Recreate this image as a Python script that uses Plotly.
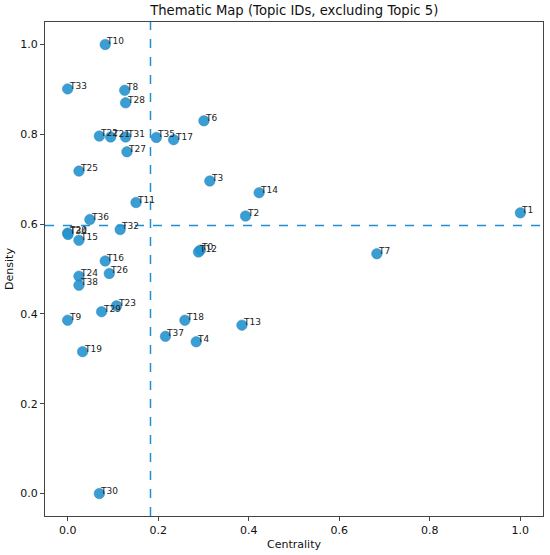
import plotly.graph_objects as go

# topic labels, centrality (x) and density (y)
topics = ["T10", "T33", "T8", "T28", "T6", "T22", "T21", "T31", "T35", "T17",
          "T27", "T25", "T3", "T14", "T11", "T2", "T1", "T36", "T20", "T34",
          "T32", "T15", "T0", "T12", "T7", "T16", "T26", "T24", "T38", "T23",
          "T29", "T9", "T18", "T13", "T37", "T4", "T19", "T30"]
centrality = [0.083, 0.000, 0.126, 0.128, 0.301, 0.070, 0.095, 0.128, 0.196, 0.234,
              0.131, 0.025, 0.314, 0.423, 0.151, 0.393, 1.000, 0.049, 0.000, 0.001,
              0.116, 0.025, 0.293, 0.289, 0.683, 0.083, 0.092, 0.025, 0.025, 0.108,
              0.075, 0.000, 0.259, 0.385, 0.216, 0.284, 0.033, 0.070]
density = [1.000, 0.901, 0.898, 0.870, 0.830, 0.796, 0.794, 0.794, 0.793, 0.788,
           0.761, 0.718, 0.696, 0.670, 0.648, 0.618, 0.625, 0.610, 0.580, 0.577,
           0.588, 0.564, 0.542, 0.538, 0.534, 0.518, 0.490, 0.484, 0.464, 0.418,
           0.405, 0.386, 0.386, 0.375, 0.350, 0.338, 0.316, 0.000]

# quadrant split lines
centrality_split = 0.183
density_split = 0.597

blue = "#2494d0"
font = "DejaVu Sans"

fig = go.Figure()
fig.add_trace(go.Scatter(
    x=centrality, y=density, mode="markers",
    marker=dict(size=10.5, color=blue, opacity=0.9,
                line=dict(width=0.5, color="#1a7ab4")),
    hoverinfo="text", text=topics, showlegend=False))

for t, cx, cy in zip(topics, centrality, density):
    fig.add_annotation(x=cx, y=cy, text=t, showarrow=False,
                       xanchor="left", yanchor="middle", xshift=-1, yshift=3,
                       font=dict(family=font, size=9, color="#222"))

fig.add_vline(x=centrality_split, line=dict(color="#1f8fcf", width=1.5, dash="dash"))
fig.add_hline(y=density_split, line=dict(color="#1f8fcf", width=1.5, dash="dash"))

axis = dict(range=[-0.05, 1.05], showgrid=False, zeroline=False, automargin=False,
            showline=True, linecolor="#444", linewidth=1, mirror=True,
            ticks="outside", ticklen=4, tickcolor="#444",
            tickvals=[0, 0.2, 0.4, 0.6, 0.8, 1.0], tickformat=".1f",
            tickfont=dict(family=font, size=11, color="#111"))

fig.update_xaxes(axis, title=dict(text="Centrality", standoff=4,
                                  font=dict(family=font, size=11, color="#111")))
fig.update_yaxes(axis, title=dict(text="Density", standoff=4,
                                  font=dict(family=font, size=11, color="#111")))

fig.update_layout(
    width=550, height=555,
    margin=dict(l=45, r=7, t=22, b=39),
    plot_bgcolor="white", paper_bgcolor="white",
    title=dict(text="Thematic Map (Topic IDs, excluding Topic 5)",
               x=0.535, xanchor="center", y=0.982, yanchor="middle",
               font=dict(family=font, size=13.2, color="#111")),
)

# the page's default body margin would shift the figure by 8px
fig.write_html("out.html", config={"displayModeBar": False},
               post_script="document.body.style.margin='0';")
